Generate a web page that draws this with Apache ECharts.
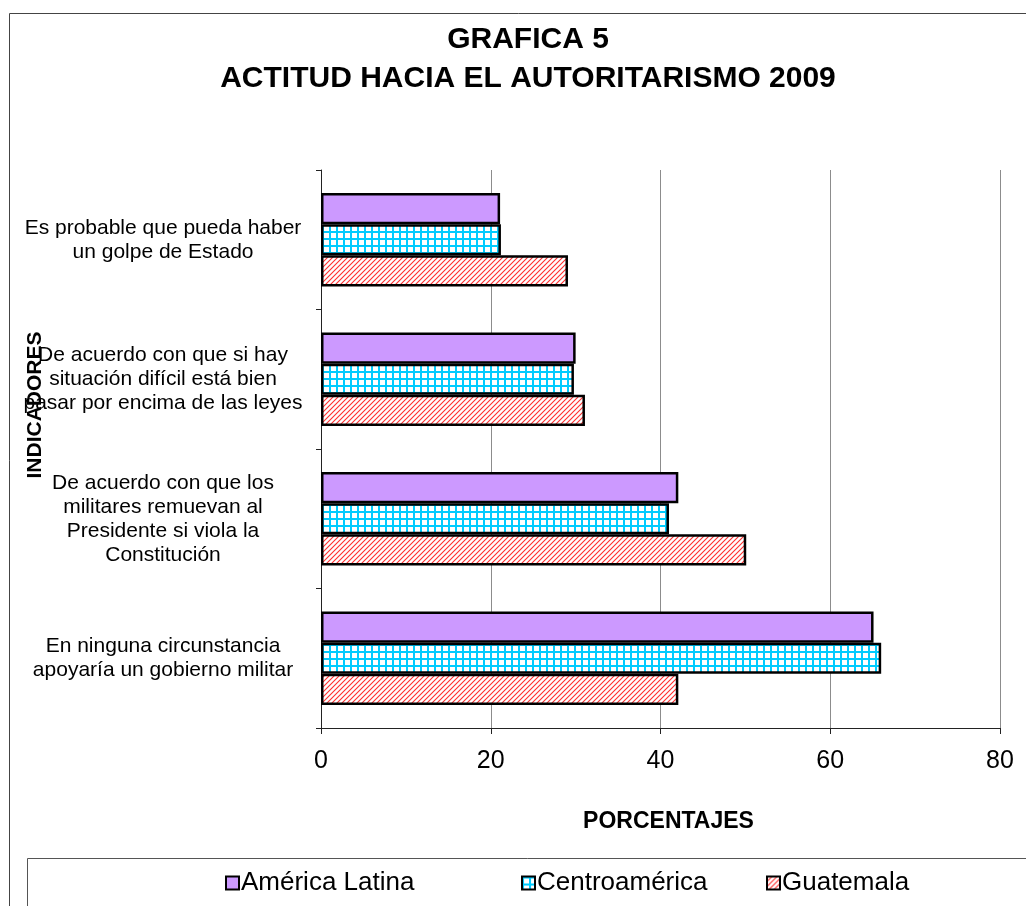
<!DOCTYPE html>
<html>
<head>
<meta charset="utf-8">
<script src="https://cdn.jsdelivr.net/npm/echarts@6/dist/echarts.min.js"></script>
<style>
    html, body { margin: 0; padding: 0; background: #fff; }
    #chart { width: 1026px; height: 906px; }
</style>
</head>
<body>
<div id="chart"></div>
<script>
// categories, top to bottom
var indicadores = [
    'Es probable que pueda haber\nun golpe de Estado',
    'De acuerdo con que si hay\nsituación difícil está bien\npasar por encima de las leyes',
    'De acuerdo con que los\nmilitares remuevan al\nPresidente si viola la\nConstitución',
    'En ninguna circunstancia\napoyaría un gobierno militar'
];
var seriesNames = ['América Latina', 'Centroamérica', 'Guatemala'];
var americaLatina = [21.1, 30.0, 42.1, 65.1];
var centroamerica = [21.2, 29.8, 41.0, 66.0];
var guatemala = [29.1, 31.1, 50.1, 42.1];
var xTicks = [0, 20, 40, 60, 80];

var FONT = '"Liberation Sans", Arial, sans-serif';

// cyan grid pattern
function gridPattern() {
    var s = 7;
    var c = document.createElement('canvas');
    c.width = s; c.height = s;
    var ctx = c.getContext('2d');
    ctx.fillStyle = '#ffffff';
    ctx.fillRect(0, 0, s, s);
    ctx.fillStyle = '#00ccff';
    ctx.fillRect(0, 0, 2, s);
    ctx.fillRect(0, 0, s, 2);
    return c;
}

// red diagonal hatch
function hatchPattern() {
    var s = 5;
    var c = document.createElement('canvas');
    c.width = s; c.height = s;
    var ctx = c.getContext('2d');
    ctx.fillStyle = '#ffffff';
    ctx.fillRect(0, 0, s, s);
    ctx.strokeStyle = '#ff3030';
    ctx.lineWidth = 1.1;
    ctx.beginPath();
    ctx.moveTo(0, s); ctx.lineTo(s, 0);
    ctx.moveTo(-1, 1); ctx.lineTo(1, -1);
    ctx.moveTo(s - 1, s + 1); ctx.lineTo(s + 1, s - 1);
    ctx.stroke();
    return c;
}

var fills = [
    '#cc99ff',
    {image: gridPattern(), repeat: 'repeat'},
    {image: hatchPattern(), repeat: 'repeat'}
];
var values = [americaLatina, centroamerica, guatemala];
var legendLeft = [225, 521, 766];

var chart = echarts.init(document.getElementById('chart'), null, {renderer: 'canvas'});

var option = {
    animation: false,
    textStyle: {fontFamily: FONT, color: '#000'},
    title: {
        text: 'GRAFICA 5\nACTITUD HACIA EL AUTORITARISMO 2009',
        left: 523,
        top: 15,
        textAlign: 'center',
        textStyle: {
            fontFamily: FONT,
            fontSize: 30,
            fontWeight: 'bold',
            color: '#000',
            lineHeight: 39
        }
    },
    legend: seriesNames.map(function (name, i) {
        return {
            data: [name],
            left: legendLeft[i],
            top: 870,
            icon: 'rect',
            itemWidth: 13,
            itemHeight: 13,
            itemGap: 0,
            padding: 0,
            itemStyle: {borderColor: '#000', borderWidth: 2},
            textStyle: {fontFamily: FONT, fontSize: 26, color: '#000', padding: [0, 0, 0, -3]}
        };
    }),
    graphic: [
        {
            type: 'rect',
            silent: true,
            shape: {x: 9.5, y: 13.5, width: 1100, height: 1000},
            style: {fill: 'none', stroke: '#444', lineWidth: 1}
        },
        {
            type: 'rect',
            silent: true,
            shape: {x: 27.5, y: 858.5, width: 1100, height: 100},
            style: {fill: 'none', stroke: '#555', lineWidth: 1}
        },
        {
            type: 'text',
            silent: true,
            x: 35,
            y: 405,
            rotation: Math.PI / 2,
            style: {
                text: 'INDICADORES',
                fontFamily: FONT,
                fontSize: 21,
                fontWeight: 'bold',
                fill: '#000',
                align: 'center',
                verticalAlign: 'middle'
            }
        }
    ],
    grid: {
        left: 321,
        right: 26,
        top: 170,
        bottom: 178,
        containLabel: false
    },
    xAxis: {
        type: 'value',
        min: xTicks[0],
        max: xTicks[xTicks.length - 1],
        interval: 20,
        name: 'PORCENTAJES',
        nameLocation: 'middle',
        nameGap: 82,
        nameTextStyle: {fontFamily: FONT, fontSize: 23, fontWeight: 'bold', color: '#000', padding: [0, 0, 0, 16]},
        axisLine: {show: true, lineStyle: {color: '#222', width: 1}},
        axisTick: {show: true, length: 6, lineStyle: {color: '#222'}},
        axisLabel: {fontFamily: FONT, fontSize: 25, color: '#000', margin: 21},
        splitLine: {show: true, lineStyle: {color: '#8c8c8c', width: 1}}
    },
    yAxis: {
        type: 'category',
        inverse: true,
        data: indicadores,
        axisLine: {show: true, lineStyle: {color: '#222', width: 1}},
        axisTick: {show: true, length: 5, lineStyle: {color: '#222'}},
        axisLabel: {
            fontFamily: FONT,
            fontSize: 21,
            lineHeight: 24,
            color: '#000',
            align: 'center',
            margin: 158
        },
        splitLine: {show: false}
    },
    series: seriesNames.map(function (name, i) {
        return {
            name: name,
            type: 'bar',
            data: values[i],
            barGap: '0%',
            barCategoryGap: '33%',
            itemStyle: {
                color: fills[i],
                borderColor: '#000',
                borderWidth: 2.5
            }
        };
    })
};

chart.setOption(option);
</script>
</body>
</html>
